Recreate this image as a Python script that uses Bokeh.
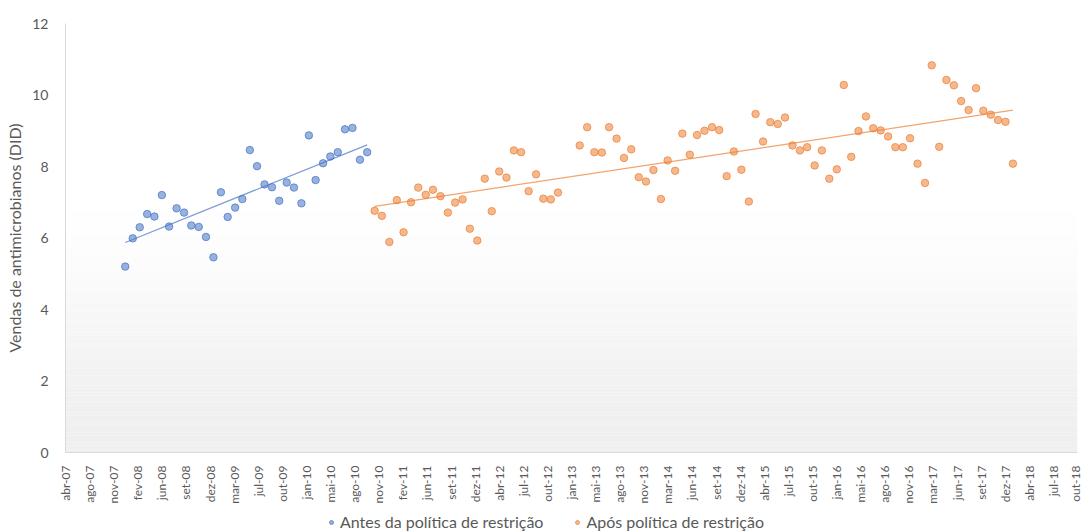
from datetime import datetime, timedelta

import numpy as np
from bokeh.embed import file_html
from bokeh.layouts import column
from bokeh.models import (BoxAnnotation, FixedTicker, Legend, LegendItem,
                          Range1d)
from bokeh.plotting import figure
from bokeh.resources import INLINE

# Monthly antimicrobial sales (DID)
BEFORE_START = "2008-01-01"   # Jan 2008 .. Oct 2010
BEFORE_DID = [5.20, 5.99, 6.30, 6.67, 6.60, 7.20, 6.32, 6.83, 6.71, 6.35,
              6.31, 6.03, 5.46, 7.28, 6.59, 6.85, 7.09, 8.46, 8.01, 7.50,
              7.42, 7.04, 7.55, 7.41, 6.97, 8.87, 7.62, 8.09, 8.28, 8.40,
              9.04, 9.08, 8.19, 8.40]

AFTER_START = "2010-11-01"    # Nov 2010 .. Feb 2018 (Jan/Feb 2013 missing)
AFTER_DID = [6.76, 6.62, 5.89, 7.06, 6.16, 7.00, 7.41, 7.21, 7.35, 7.17,
             6.71, 6.99, 7.08, 6.26, 5.93, 7.66, 6.75, 7.86, 7.69, 8.45,
             8.40, 7.31, 7.78, 7.10, 7.08, 7.27, None, None, 8.59, 9.10,
             8.40, 8.39, 9.10, 8.78, 8.24, 8.48, 7.70, 7.58, 7.90, 7.09,
             8.17, 7.88, 8.92, 8.33, 8.88, 9.00, 9.10, 9.02, 7.73, 8.42,
             7.91, 7.02, 9.47, 8.70, 9.24, 9.19, 9.37, 8.59, 8.45, 8.54,
             8.03, 8.45, 7.66, 7.92, 10.28, 8.27, 8.99, 9.40, 9.07, 9.01,
             8.84, 8.54, 8.54, 8.79, 8.08, 7.54, 10.83, 8.55, 10.42, 10.27,
             9.83, 9.58, 10.19, 9.56, 9.45, 9.30, 9.25, 8.08]

SERIES_NAMES = ["Antes da política de restrição", "Após política de restrição"]

# Date axis: starts 28 Apr 2007, one tick every 100 days
AXIS_START = datetime(2007, 4, 28)
TICK_STEP_DAYS = 100
TICK_LABELS = ["abr-07", "ago-07", "nov-07", "fev-08", "jun-08", "set-08",
               "dez-08", "mar-09", "jul-09", "out-09", "jan-10", "mai-10",
               "ago-10", "nov-10", "fev-11", "jun-11", "set-11", "dez-11",
               "abr-12", "jul-12", "out-12", "jan-13", "mai-13", "ago-13",
               "nov-13", "mar-14", "jun-14", "set-14", "dez-14", "abr-15",
               "jul-15", "out-15", "jan-16", "mai-16", "ago-16", "nov-16",
               "mar-17", "jun-17", "set-17", "dez-17", "abr-18", "jul-18",
               "out-18"]
Y_TICKS = [0, 2, 4, 6, 8, 10, 12]

BLUE = "#4472C4"
ORANGE = "#ED7D31"
TEXT = "#595959"
FONT = "Lato"


def monthly(start, values):
    dates = [datetime.fromisoformat(start)]
    for _ in values[1:]:
        d = dates[-1]
        dates.append(datetime(d.year + d.month // 12, d.month % 12 + 1, 1))
    y = np.array([np.nan if v is None else v for v in values], dtype=float)
    return dates, y


def to_ms(d):
    return (d - datetime(1970, 1, 1)).total_seconds() * 1000.0


def trend(dates, y):
    x = np.array([to_ms(d) for d in dates])
    ok = ~np.isnan(y)
    k, b = np.polyfit(x[ok], y[ok], 1)
    xs = np.array([x[ok][0], x[ok][-1]])
    return [dates[0], dates[-1]], k * xs + b


tick_dates = [AXIS_START + timedelta(days=TICK_STEP_DAYS * i)
              for i in range(len(TICK_LABELS))]
tick_ms = [to_ms(d) for d in tick_dates]

p = figure(width=1082, height=506, x_axis_type="datetime",
           output_backend="svg", toolbar_location=None,
           x_range=Range1d(tick_dates[0], tick_dates[-1]),
           y_range=Range1d(0, 12),
           min_border_left=65, min_border_right=5, min_border_top=23,
           min_border_bottom=54)
p.outline_line_color = None
p.grid.visible = False
p.background_fill_color = "white"

# soft vertical shading at the bottom of the plot area
n_bands = 80
for i in range(n_bands):
    lo = 7.5 * i / n_bands
    hi = 7.5 * (i + 1) / n_bands
    t = (lo + hi) / 2 / 7.5
    s = t * t * (3 - 2 * t)
    g = int(round(239 + 16 * s))
    p.add_layout(BoxAnnotation(bottom=lo, top=hi, fill_color=(g, g, g),
                               fill_alpha=1.0, line_alpha=0, level="underlay"))

b_dates, b_y = monthly(BEFORE_START, BEFORE_DID)
a_dates, a_y = monthly(AFTER_START, AFTER_DID)

bt_x, bt_y = trend(b_dates, b_y)
at_x, at_y = trend(a_dates, a_y)
p.line(bt_x, bt_y, line_color=BLUE, line_width=1.2, line_alpha=0.7)
p.line(at_x, at_y, line_color=ORANGE, line_width=1.2, line_alpha=0.7)

marker_style = dict(size=7.5, line_width=1)
blue_style = dict(fill_color=BLUE, fill_alpha=0.55, line_color=BLUE,
                  line_alpha=0.7, **marker_style)
orange_style = dict(fill_color=ORANGE, fill_alpha=0.55, line_color=ORANGE,
                    line_alpha=0.7, **marker_style)
p.scatter(b_dates, b_y, **blue_style)
p.scatter(a_dates, a_y, **orange_style)

# axes
xa = p.xaxis[0]
xa.ticker = FixedTicker(ticks=tick_ms)
xa.major_label_overrides = {t: lab for t, lab in zip(tick_ms, TICK_LABELS)}
xa.major_label_orientation = np.pi / 2
xa.major_label_text_font = FONT
xa.major_label_text_font_size = "12px"
xa.major_label_text_color = TEXT
xa.major_tick_line_color = None
xa.minor_tick_line_color = None
xa.axis_line_color = "#d9d9d9"
xa.major_label_standoff = 7

ya = p.yaxis[0]
ya.ticker = FixedTicker(ticks=Y_TICKS)
ya.major_label_text_font = FONT
ya.major_label_text_font_size = "14px"
ya.major_label_text_color = TEXT
ya.major_tick_line_color = None
ya.minor_tick_line_color = None
ya.axis_line_color = "#d9d9d9"
ya.major_label_standoff = 11
ya.axis_label = "Vendas de antimicrobianos (DID)"
ya.axis_label_text_font = FONT
ya.axis_label_text_font_size = "16px"
ya.axis_label_text_font_style = "normal"
ya.axis_label_text_color = TEXT
ya.axis_label_standoff = 5

# legend strip under the chart; its keys reuse the series data, which lies
# outside this strip's unit ranges, so only the legend itself is visible.
# The column aligns this strip's frame with the chart frame (65 px in).
leg = figure(width=1082, height=25, output_backend="svg",
             toolbar_location=None, x_range=Range1d(0, 1),
             y_range=Range1d(0, 1), min_border=0,
             x_axis_location=None, y_axis_location=None)
leg.grid.visible = False
leg.outline_line_color = None
k_b = leg.scatter([to_ms(d) for d in b_dates], b_y, **blue_style)
k_a = leg.scatter([to_ms(d) for d in a_dates], a_y, **orange_style)
legend = Legend(items=[LegendItem(label=SERIES_NAMES[0], renderers=[k_b]),
                       LegendItem(label=SERIES_NAMES[1], renderers=[k_a])],
                orientation="horizontal", location=(261, 0),
                label_text_font=FONT, label_text_font_size="16px",
                label_text_color=TEXT, border_line_color=None,
                background_fill_alpha=0, glyph_width=10, glyph_height=10,
                label_standoff=4, spacing=29, padding=2, margin=0)
leg.add_layout(legend)

page = column(p, leg, spacing=0)
open("out.html", "w").write(file_html(page, INLINE))
